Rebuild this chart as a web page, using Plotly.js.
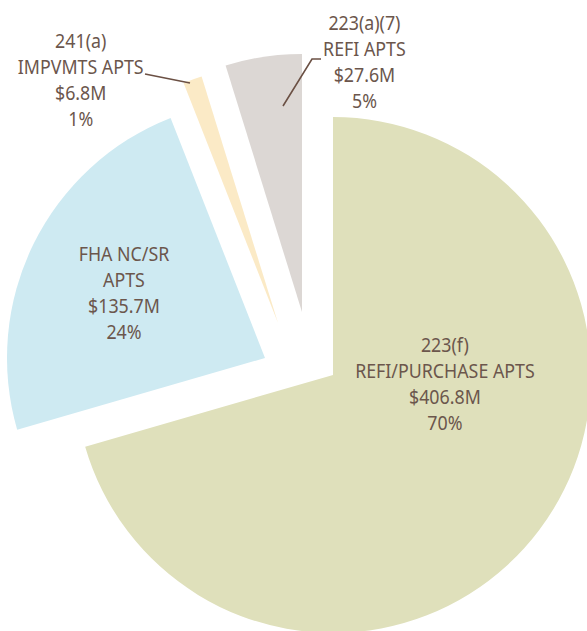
<!DOCTYPE html>
<html>
<head>
<meta charset="utf-8">
<script src="https://cdn.plot.ly/plotly-3.0.1.min.js"></script>
<style>
html,body{margin:0;padding:0;overflow:hidden;background:#fff;}
#chart{width:600px;height:645px;}
#chart text.annotation-text{transform-box:fill-box;transform-origin:center;transform:scaleX(0.89);}
</style>
</head>
<body>
<div id="chart"></div>
<script>
// ---- data ----
const categories = ["223(f)<br>REFI/PURCHASE APTS", "FHA NC/SR<br>APTS", "241(a)<br>IMPVMTS APTS", "223(a)(7)<br>REFI APTS"];
const valuesM = [406.8, 135.7, 6.8, 27.6];
const percents = [70, 24, 1, 5];
const colors = ["#dfe0bb", "#ceeaf2", "#fbeac6", "#dcd7d4"];

// ---- layout geometry (pixels) ----
const W = 600, H = 645, R = 258;
// vertex of each exploded slice
const centers = [[333, 375], [265, 358], [278, 323], [302, 312]];
const labelPos = [[445, 383], [124, 292], [80, 79], [365, 61]];
const px = x => x / W;
const py = y => 1 - y / H;

const traces = categories.map((c, i) => {
  const [cx, cy] = centers[i];
  return {
    type: "pie",
    values: valuesM,
    labels: categories,
    sort: false,
    direction: "clockwise",
    rotation: 0,
    textinfo: "none",
    hoverinfo: "skip",
    showlegend: false,
    marker: {
      colors: colors.map((col, j) => j === i ? col : "rgba(0,0,0,0)"),
      line: {width: 0}
    },
    domain: {x: [px(cx - R), px(cx + R)], y: [py(cy + R), py(cy - R)]}
  };
});

const annotations = categories.map((c, i) => ({
  xref: "paper", yref: "paper",
  x: px(labelPos[i][0]), y: py(labelPos[i][1]),
  xanchor: "center", yanchor: "middle",
  showarrow: false, align: "center",
  text: c + "<br>$" + valuesM[i].toFixed(1) + "M<br>" + percents[i] + "%",
  font: {family: "Noto Sans, DejaVu Sans, sans-serif", size: 20, color: "#6b564c"}
}));

function pathOf(pts) {
  return pts.map((p, k) => (k ? "L" : "M") + px(p[0]) + "," + py(p[1])).join(" ");
}
const lineStyle = {color: "#6b5044", width: 1.6};
const shapes = [
  {type: "path", xref: "paper", yref: "paper", path: pathOf([[145, 74], [190, 83]]), line: lineStyle},
  {type: "path", xref: "paper", yref: "paper", path: pathOf([[283, 106], [312, 59], [321, 59]]), line: lineStyle}
];

Plotly.newPlot("chart", traces, {
  width: W, height: H,
  margin: {l: 0, r: 0, t: 0, b: 0},
  paper_bgcolor: "#ffffff",
  annotations: annotations,
  shapes: shapes,
  showlegend: false
}, {displayModeBar: false, staticPlot: true});
</script>
</body>
</html>
